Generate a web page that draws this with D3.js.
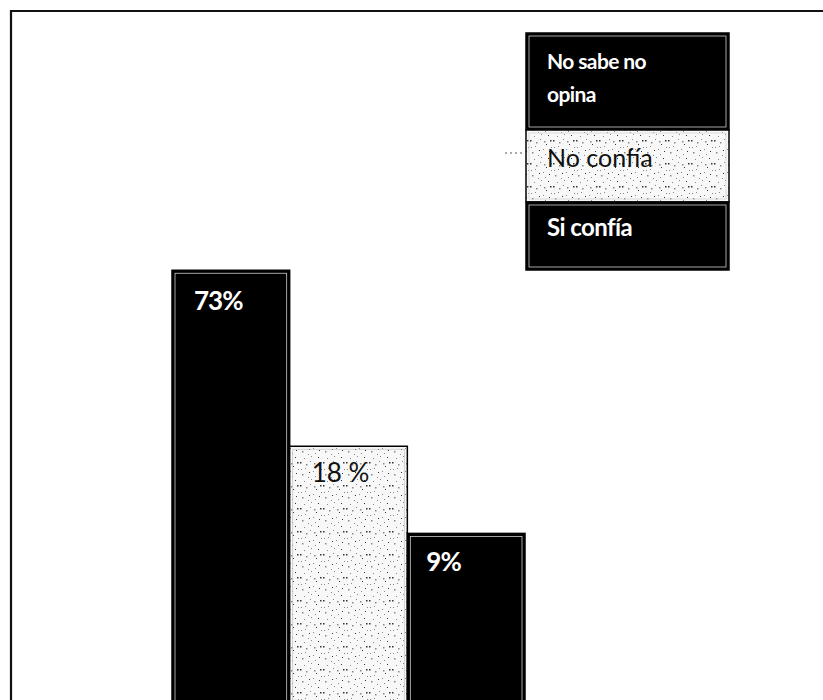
<!DOCTYPE html>
<html>
<head>
<meta charset="utf-8">
<script src="https://cdn.jsdelivr.net/npm/d3@7"></script>
<style>
  html, body { margin: 0; padding: 0; background: #fff; }
  svg { display: block; }
</style>
</head>
<body>
<svg id="chart" width="823" height="700"></svg>
<script>
// ---- data ----
const categories = ["Si confía", "No confía", "No sabe no opina"];
const values = [73, 18, 9];
const valueLabels = ["73%", "18 %", "9%"];
const legendOrder = ["No sabe no opina", "No confía", "Si confía"];
const legendLines = [["No sabe no", "opina"], ["No confía"], ["Si confía"]];

// ---- styles ----
const fillFor = { "Si confía": "#000", "No confía": "url(#stipple)", "No sabe no opina": "#000" };
const textFor = { "Si confía": "#fff", "No confía": "#111", "No sabe no opina": "#fff" };

const svg = d3.select("#chart");
const defs = svg.append("defs");

// stipple pattern
const P = 23;
const pat = defs.append("pattern").attr("id", "stipple")
  .attr("width", P).attr("height", P).attr("patternUnits", "userSpaceOnUse");
pat.append("rect").attr("width", P).attr("height", P).attr("fill", "#f8f8f8");
const dots = [[1,2],[6,8],[11,1],[17,6],[3,14],[9,17],[20,13],[14,11],[7,4],[19,20],[2,9],[12,19],[21,2],[16,16],[5,21],[10,12],[15,3],[22,9]];
pat.selectAll("rect.d").data(dots).join("rect").attr("class", "d")
  .attr("x", d => d[0]).attr("y", d => d[1])
  .attr("width", (d, i) => i % 4 === 0 ? 1.5 : 1).attr("height", (d, i) => i % 4 === 0 ? 1.5 : 1)
  .attr("fill", (d, i) => i % 3 === 0 ? "#333" : "#888");

// frame
svg.append("path").attr("d", "M11,700 L11,11 L823,11")
  .attr("fill", "none").attr("stroke", "#111").attr("stroke-width", 2.2);

// scales
const x = d3.scaleBand().domain(categories).range([172, 525]).padding(0);
const y = d3.scaleLog().domain([1, 100]).range([809.6, 230.7]);

const labelDx = [22, 22, 19];
const labelDy = [40, 36, 38];
const bars = svg.append("g");
categories.forEach((c, i) => {
  const x0 = x(c), w = x.bandwidth(), y0 = y(values[i]), h = y(1) - y(values[i]);
  bars.append("rect").attr("x", x0).attr("y", y0).attr("width", w).attr("height", h)
    .attr("fill", fillFor[c]).attr("stroke", "#000").attr("stroke-width", 1.5);
  bars.append("rect").attr("x", x0 + 3).attr("y", y0 + 3).attr("width", w - 6).attr("height", h - 6)
    .attr("fill", "none").attr("stroke", fillFor[c] === "#000" ? "#fff" : "#bbb").attr("stroke-width", 0.8)
    .attr("opacity", 0.8);
  const white = textFor[c] === "#fff";
  bars.append("text")
    .attr("x", x0 + labelDx[i])
    .attr("y", y0 + labelDy[i])
    .attr("font-family", "Lato, 'Open Sans', sans-serif")
    .attr("font-size", white ? 26 : 26)
    .attr("font-weight", white ? 700 : 400)
    .attr("fill", textFor[c])
    .attr("letter-spacing", white ? -1 : 0)
    .text(valueLabels[i]);
});

// legend
const legX = 526, legW = 203;
const legRows = [[33, 97], [130, 72], [202, 68]];
const leg = svg.append("g");
legendOrder.forEach((c, i) => {
  const [ry, rh] = legRows[i];
  leg.append("rect").attr("x", legX).attr("y", ry).attr("width", legW).attr("height", rh)
    .attr("fill", fillFor[c]).attr("stroke", "#000").attr("stroke-width", 1.5);
  leg.append("rect").attr("x", legX + 3).attr("y", ry + 3).attr("width", legW - 6).attr("height", rh - 6)
    .attr("fill", "none").attr("stroke", fillFor[c] === "#000" ? "#fff" : "#ccc").attr("stroke-width", 0.8)
    .attr("opacity", 0.8);
  const white = textFor[c] === "#fff";
  const t = leg.append("text")
    .attr("font-family", "Lato, 'Open Sans', sans-serif")
    .attr("font-size", white ? (legendLines[i].length > 1 ? 21 : 24) : 25)
    .attr("font-weight", white ? 700 : 400)
    .attr("fill", textFor[c])
    .attr("letter-spacing", white ? -0.6 : 0);
  legendLines[i].forEach((line, j) => {
    t.append("tspan").attr("x", legX + 21)
      .attr("y", ry + (legendLines[i].length > 1 ? 36 + j * 33 : (i === 1 ? 37 : 34)))
      .text(line);
  });
});
// faint dashed scan mark by the legend
svg.append("line").attr("x1", 505).attr("x2", 522).attr("y1", 153).attr("y2", 153)
  .attr("stroke", "#555").attr("stroke-dasharray", "2,3").attr("stroke-width", 1);
</script>
</body>
</html>
